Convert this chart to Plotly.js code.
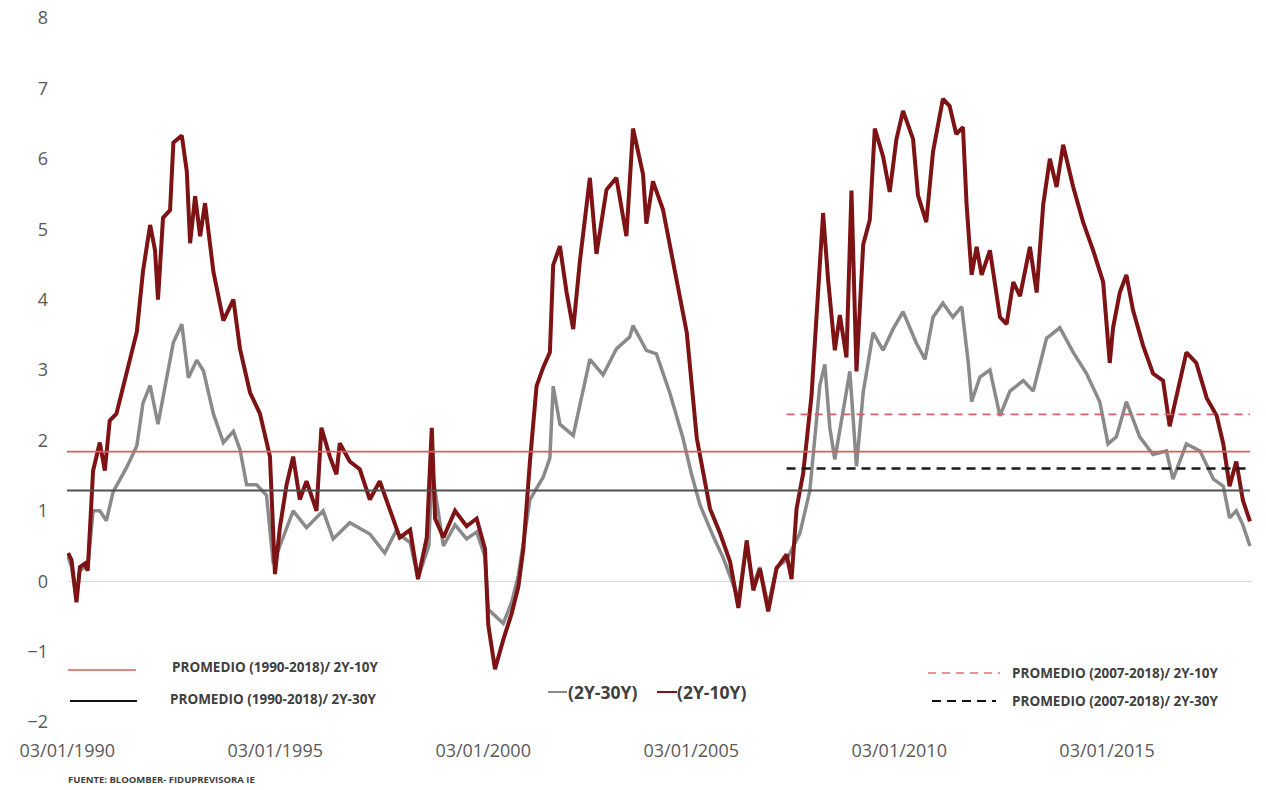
<!DOCTYPE html>
<html>
<head>
<meta charset="utf-8">
<script src="https://cdn.plot.ly/plotly-3.0.1.min.js"></script>
<style>html,body{margin:0;padding:0;background:#fff;}#chart{width:1266px;height:790px;}</style>
</head>
<body>
<div id="chart"></div>
<script>
// ---- data (decimal years, spread values in %) ----
const t10 = [1990.03,1990.11,1990.23,1990.31,1990.43,1990.50,1990.63,1990.79,1990.91,1991.03,1991.19,1991.44,1991.68,1991.83,1992.00,1992.12,1992.19,1992.31,1992.48,1992.56,1992.76,1992.88,1992.96,1993.08,1993.20,1993.32,1993.52,1993.76,1994.00,1994.16,1994.40,1994.64,1994.88,1995.00,1995.12,1995.28,1995.44,1995.60,1995.76,1996.00,1996.12,1996.32,1996.48,1996.56,1996.80,1997.04,1997.28,1997.52,1997.76,1998.00,1998.25,1998.44,1998.65,1998.77,1998.85,1999.05,1999.33,1999.61,1999.85,2000.05,2000.13,2000.29,2000.49,2000.69,2000.85,2000.97,2001.13,2001.29,2001.45,2001.61,2001.69,2001.85,2002.01,2002.17,2002.33,2002.57,2002.73,2002.97,2003.21,2003.45,2003.61,2003.85,2003.93,2004.09,2004.33,2004.57,2004.90,2005.14,2005.30,2005.46,2005.70,2005.94,2006.14,2006.34,2006.50,2006.66,2006.86,2007.06,2007.30,2007.42,2007.54,2007.70,2007.90,2008.02,2008.18,2008.30,2008.46,2008.58,2008.74,2008.86,2008.98,2009.14,2009.30,2009.42,2009.62,2009.78,2009.94,2010.10,2010.34,2010.46,2010.66,2010.82,2011.06,2011.22,2011.38,2011.54,2011.63,2011.75,2011.87,2011.99,2012.19,2012.43,2012.59,2012.75,2012.91,2013.15,2013.31,2013.47,2013.63,2013.79,2013.95,2014.19,2014.43,2014.67,2014.91,2015.07,2015.15,2015.31,2015.47,2015.63,2015.87,2016.11,2016.35,2016.51,2016.67,2016.91,2017.15,2017.40,2017.64,2017.80,2017.95,2018.11,2018.27,2018.44];
const s2y10y = [0.40,0.30,-0.30,0.20,0.25,0.15,1.57,1.97,1.57,2.28,2.38,3.00,3.54,4.40,5.06,4.70,4.00,5.16,5.27,6.23,6.33,5.82,4.80,5.47,4.90,5.37,4.40,3.70,4.00,3.30,2.68,2.38,1.77,0.10,0.76,1.37,1.77,1.16,1.42,1.00,2.18,1.77,1.52,1.96,1.70,1.59,1.16,1.42,1.00,0.62,0.73,0.03,0.62,2.18,0.89,0.62,1.00,0.78,0.89,0.46,-0.62,-1.25,-0.83,-0.46,-0.08,0.46,1.70,2.77,3.04,3.25,4.49,4.76,4.11,3.58,4.54,5.73,4.65,5.56,5.73,4.90,6.43,5.78,5.08,5.68,5.28,4.53,3.53,2.03,1.53,1.03,0.68,0.28,-0.38,0.58,-0.13,0.18,-0.43,0.18,0.38,0.03,1.03,1.53,2.63,3.78,5.23,4.28,3.28,3.78,3.18,5.55,2.98,4.78,5.13,6.43,6.03,5.53,6.28,6.68,6.28,5.48,5.10,6.10,6.85,6.75,6.35,6.45,5.35,4.35,4.75,4.35,4.70,3.75,3.65,4.25,4.05,4.75,4.10,5.35,6.00,5.60,6.20,5.60,5.10,4.70,4.25,3.10,3.60,4.10,4.35,3.85,3.35,2.95,2.85,2.20,2.60,3.25,3.10,2.60,2.35,1.95,1.35,1.70,1.15,0.85];

const t30 = [1990.03,1990.11,1990.23,1990.31,1990.43,1990.50,1990.63,1990.79,1990.95,1991.11,1991.44,1991.68,1991.83,1992.00,1992.19,1992.36,1992.56,1992.76,1992.92,1993.12,1993.28,1993.52,1993.76,1994.00,1994.16,1994.32,1994.56,1994.80,1994.96,1995.12,1995.44,1995.76,1996.16,1996.40,1996.80,1997.28,1997.64,1997.90,1998.25,1998.44,1998.70,1998.77,1999.05,1999.33,1999.61,1999.85,2000.05,2000.13,2000.33,2000.49,2000.69,2000.85,2001.13,2001.45,2001.61,2001.69,2001.85,2002.17,2002.57,2002.89,2003.21,2003.53,2003.61,2003.93,2004.17,2004.49,2004.81,2005.01,2005.22,2005.54,2005.78,2006.14,2006.34,2006.50,2006.66,2006.86,2007.06,2007.30,2007.62,2007.86,2008.10,2008.22,2008.34,2008.46,2008.62,2008.82,2008.98,2009.14,2009.38,2009.62,2009.86,2010.10,2010.42,2010.63,2010.82,2011.06,2011.30,2011.51,2011.67,2011.75,2011.95,2012.19,2012.43,2012.67,2012.99,2013.23,2013.55,2013.87,2014.19,2014.51,2014.83,2015.03,2015.23,2015.47,2015.79,2016.11,2016.43,2016.59,2016.91,2017.24,2017.56,2017.80,2017.95,2018.11,2018.27,2018.44];
const s2y30y = [0.35,0.20,-0.25,0.15,0.20,0.20,1.00,1.00,0.86,1.27,1.62,1.92,2.53,2.78,2.23,2.78,3.39,3.65,2.89,3.14,2.99,2.38,1.97,2.13,1.87,1.37,1.37,1.22,0.25,0.50,1.00,0.76,1.00,0.60,0.83,0.67,0.40,0.70,0.55,0.05,0.50,1.60,0.50,0.80,0.60,0.70,0.35,-0.40,-0.51,-0.60,-0.30,0.08,1.16,1.48,1.75,2.77,2.23,2.07,3.15,2.93,3.30,3.47,3.63,3.28,3.23,2.68,2.03,1.53,1.08,0.63,0.33,-0.25,0.50,-0.05,0.20,-0.35,0.20,0.30,0.68,1.28,2.78,3.08,2.18,1.73,2.28,2.98,1.63,2.68,3.53,3.28,3.58,3.83,3.38,3.15,3.75,3.95,3.75,3.90,3.10,2.55,2.90,3.00,2.35,2.70,2.85,2.70,3.45,3.60,3.25,2.95,2.55,1.95,2.05,2.55,2.05,1.80,1.85,1.45,1.95,1.85,1.45,1.35,0.90,1.00,0.80,0.50];

// averages
const avgFull = {start: 1990.0, end: 2018.44};
const avg10Full = 1.84;   // PROMEDIO (1990-2018)/ 2Y-10Y
const avg30Full = 1.29;   // PROMEDIO (1990-2018)/ 2Y-30Y
const avgRecentStart = 2007.3;
const avg10Recent = 2.37; // PROMEDIO (2007-2018)/ 2Y-10Y
const avg30Recent = 1.60; // PROMEDIO (2007-2018)/ 2Y-30Y

const tickYears = [1990,1995,2000,2005,2010,2015];
const tickLabels = ['03/01/1990','03/01/1995','03/01/2000','03/01/2005','03/01/2010','03/01/2015'];

// ---- helpers ----
function yd(t){
  const y = Math.floor(t);
  const a = Date.UTC(y,0,1), b = Date.UTC(y+1,0,1);
  return new Date(a + (t-y)*(b-a)).toISOString().slice(0,10);
}
const RED = '#7d1315', GREY = '#8a8a8a';

const traces = [
  {x: t30.map(yd), y: s2y30y, mode:'lines', name:'(2Y-30Y)', line:{color:GREY, width:3.5}},
  {x: t10.map(yd), y: s2y10y, mode:'lines', name:'(2Y-10Y)', line:{color:RED, width:4}},
  {x: [yd(avgFull.start), yd(avgFull.end)], y:[avg10Full,avg10Full], mode:'lines', line:{color:'#e05a5e', width:1.6}},
  {x: [yd(avgFull.start), yd(avgFull.end)], y:[avg30Full,avg30Full], mode:'lines', line:{color:'#505050', width:2}},
  {x: [yd(avgRecentStart), yd(avgFull.end)], y:[avg10Recent,avg10Recent], mode:'lines', line:{color:'#d8606a', width:1.8, dash:'8px,6px'}},
  {x: [yd(avgRecentStart), yd(avgFull.end)], y:[avg30Recent,avg30Recent], mode:'lines', line:{color:'#1a1a1a', width:2.5, dash:'9px,6px'}}
];

// ---- layout ----
const L = 67, R = 14, T = 18, B = 68, W = 1266, H = 790;
const pw = W - L - R, ph = H - T - B;
const px = v => (v - L)/pw;
const py = v => (H - B - v)/ph;

const legFont = {family:'Open Sans, sans-serif', size:13.5, color:'#404040'};
const midFont = {family:'Open Sans, sans-serif', size:17.5, color:'#404040'};
const shapes = [
  {type:'line', xref:'paper', yref:'paper', x0:px(68), x1:px(136), y0:py(670), y1:py(670), line:{color:'#e05a5e', width:1.5}},
  {type:'line', xref:'paper', yref:'paper', x0:px(70), x1:px(137), y0:py(701), y1:py(701), line:{color:'#111', width:2.2}},
  {type:'line', xref:'paper', yref:'paper', x0:px(548), x1:px(567), y0:py(692), y1:py(692), line:{color:GREY, width:2}},
  {type:'line', xref:'paper', yref:'paper', x0:px(657), x1:px(677), y0:py(692), y1:py(692), line:{color:RED, width:2}},
  {type:'line', xref:'paper', yref:'paper', x0:px(928), x1:px(1000), y0:py(673), y1:py(673), line:{color:'#e07078', width:1.5, dash:'8px,6px'}},
  {type:'line', xref:'paper', yref:'paper', x0:px(932), x1:px(996), y0:py(701), y1:py(701), line:{color:'#111', width:2.2, dash:'9px,6px'}}
];
const annotations = [
  {xref:'paper', yref:'paper', x:px(170), y:py(667), xanchor:'left', yanchor:'middle', showarrow:false, text:'<b>PROMEDIO (1990-2018)/ 2Y-10Y</b>', font:legFont},
  {xref:'paper', yref:'paper', x:px(168), y:py(699), xanchor:'left', yanchor:'middle', showarrow:false, text:'<b>PROMEDIO (1990-2018)/ 2Y-30Y</b>', font:legFont},
  {xref:'paper', yref:'paper', x:px(566), y:py(692), xanchor:'left', yanchor:'middle', showarrow:false, text:'<b>(2Y-30Y)</b>', font:midFont},
  {xref:'paper', yref:'paper', x:px(675), y:py(692), xanchor:'left', yanchor:'middle', showarrow:false, text:'<b>(2Y-10Y)</b>', font:midFont},
  {xref:'paper', yref:'paper', x:px(1010), y:py(673), xanchor:'left', yanchor:'middle', showarrow:false, text:'<b>PROMEDIO (2007-2018)/ 2Y-10Y</b>', font:legFont},
  {xref:'paper', yref:'paper', x:px(1010), y:py(701), xanchor:'left', yanchor:'middle', showarrow:false, text:'<b>PROMEDIO (2007-2018)/ 2Y-30Y</b>', font:legFont},
  {xref:'paper', yref:'paper', x:px(66), y:py(780), xanchor:'left', yanchor:'middle', showarrow:false, text:'<b>FUENTE: BLOOMBER- FIDUPREVISORA IE</b>', font:{family:'Open Sans, sans-serif', size:9.5, color:'#404040'}}
];

const layout = {
  width: W, height: H,
  margin: {l:L, r:R, t:T, b:B},
  paper_bgcolor:'#fff', plot_bgcolor:'#fff',
  showlegend: false,
  xaxis: {
    type:'date', range:[yd(1990.0), yd(2018.49)],
    tickvals: tickYears.map(y => y + '-01-03'), ticktext: tickLabels,
    showgrid:false, zeroline:false, showline:false, ticks:'',
    ticklabelstandoff: 16,
    tickfont:{family:'Open Sans, sans-serif', size:18, color:'#595959'}
  },
  yaxis: {
    range:[-2, 8], dtick:1, tick0:0,
    showgrid:false, zeroline:true, zerolinecolor:'#d9d9d9', zerolinewidth:1,
    showline:false, ticks:'',
    ticklabelstandoff: 18,
    tickfont:{family:'Open Sans, sans-serif', size:18, color:'#595959'}
  },
  shapes: shapes,
  annotations: annotations
};

Plotly.newPlot('chart', traces, layout, {staticPlot:true, displayModeBar:false});
</script>
</body>
</html>
